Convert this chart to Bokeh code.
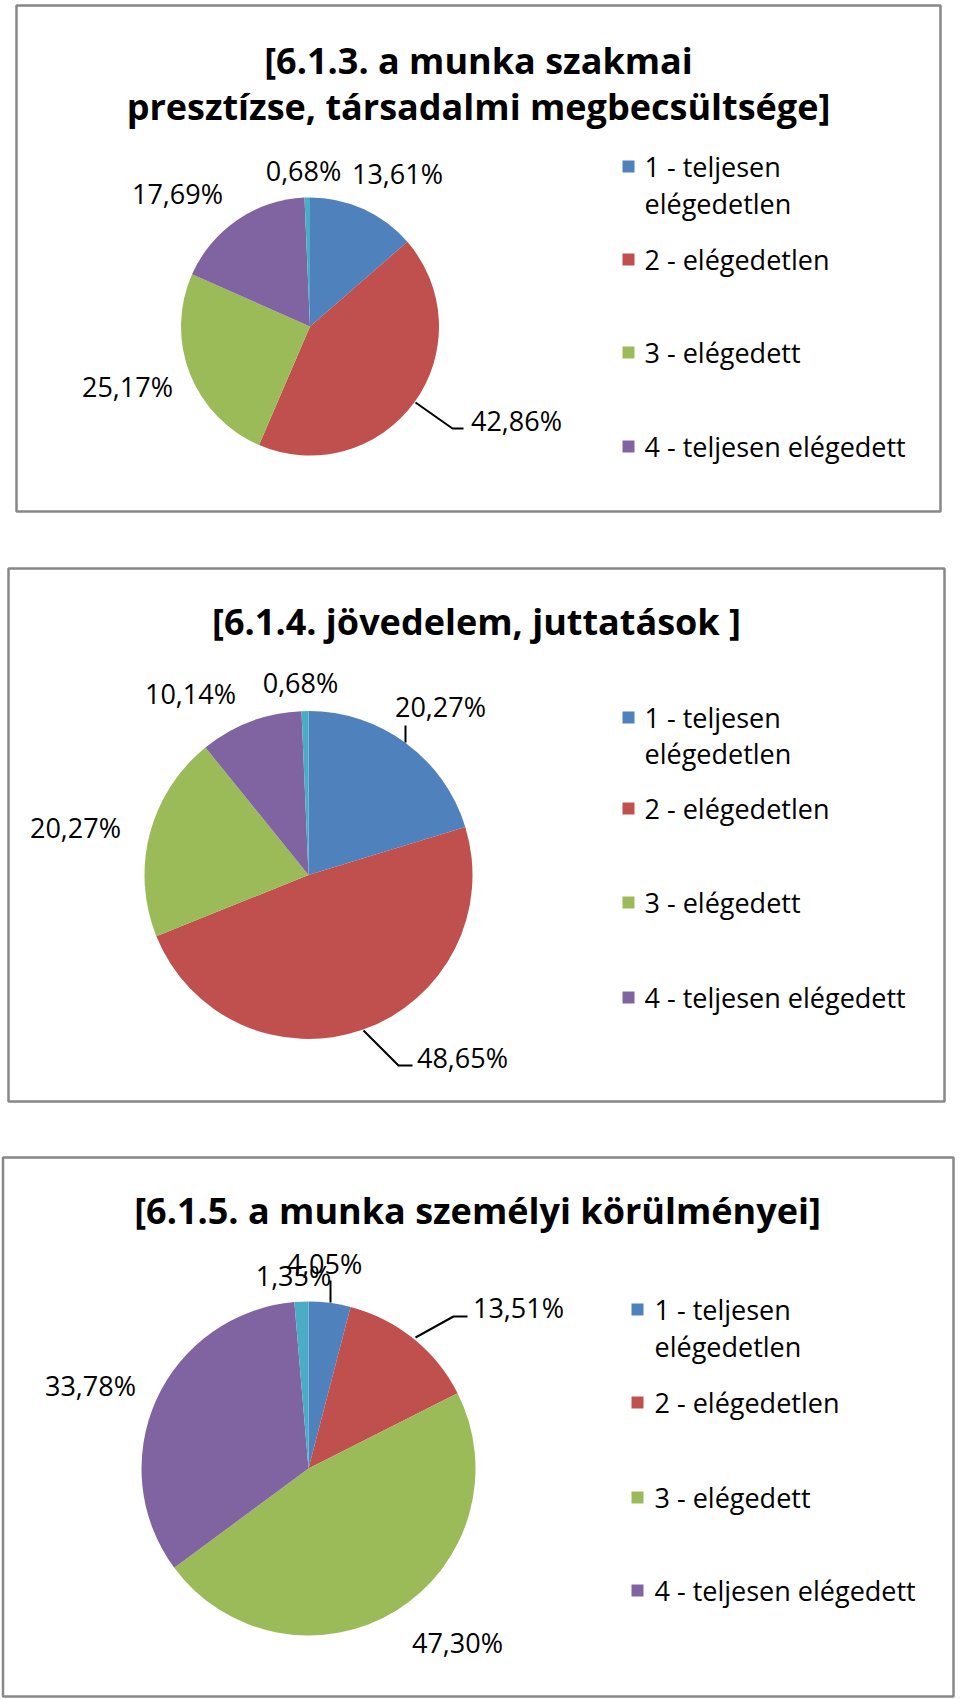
import numpy as np
from bokeh.plotting import figure
from bokeh.models import Range1d
from bokeh.core.properties import value
from bokeh.embed import file_html
from bokeh.resources import INLINE

# ---------------- data ----------------
legend_labels = ["1 - teljesen\nelégedetlen", "2 - elégedetlen", "3 - elégedett", "4 - teljesen elégedett"]
slice_names = ["1 - teljesen elégedetlen", "2 - elégedetlen", "3 - elégedett",
               "4 - teljesen elégedett", "nincs válasz"]
colors = ["#4F81BD", "#C0504D", "#9BBB59", "#8064A2", "#4BACC6"]

title_613 = "[6.1.3. a munka szakmai\npresztízse, társadalmi megbecsültsége]"
values_613 = [13.61, 42.86, 25.17, 17.69, 0.68]

title_614 = "[6.1.4. jövedelem, juttatások ]"
values_614 = [20.27, 48.65, 20.27, 10.14, 0.68]

title_615 = "[6.1.5. a munka személyi körülményei]"
values_615 = [4.05, 13.51, 47.30, 33.78, 1.35]

# ---------------- layout (page pixel coordinates) ----------------
PAGE_H = 1699
W, H = 960, 1699
FONT = "Open Sans"
LABEL_SIZE = "27px"
TITLE_SIZE = "36px"

charts = [
    dict(title=title_613, values=values_613, box=(16, 5, 940, 511),
         center=(309.5, 326), r=129, title_x=478, title_y=[60, 106],
         leg_sq_x=628, leg_tx=644, leg_y=[166, 259, 352, 446], leg_dy=37,
         label_pos=[(397, 173), (516, 420), (127, 386), (177, 193), (303, 170)],
         leaders=[[(415, 402), (452, 428), (463, 428)]]),
    dict(title=title_614, values=values_614, box=(8, 568, 944, 1101),
         center=(308, 874.5), r=164, title_x=476, title_y=[621],
         leg_sq_x=628, leg_tx=644, leg_y=[717, 808, 902, 997], leg_dy=36,
         label_pos=[(440, 706), (462, 1057), (75, 827), (190, 693), (300, 682)],
         leaders=[[(405, 725), (405, 742)], [(363, 1030), (398, 1065), (412, 1065)]]),
    dict(title=title_615, values=values_615, box=(2.5, 1157, 953, 1696),
         center=(308, 1468), r=167, title_x=477, title_y=[1210],
         leg_sq_x=637, leg_tx=654, leg_y=[1309, 1402, 1497, 1590], leg_dy=37,
         label_pos=[(324, 1263), (518, 1307), (457, 1642), (90, 1385), (293, 1275)],
         leaders=[[(330, 1280), (330, 1302)], [(415, 1337), (453, 1316), (467, 1316)]]),
]


def Y(py):
    return PAGE_H - py


p = figure(width=W, height=H, x_range=Range1d(0, W), y_range=Range1d(PAGE_H - H, PAGE_H),
           output_backend="svg", toolbar_location=None, x_axis_location=None, y_axis_location=None,
           min_border=0)
p.grid.visible = False
p.outline_line_color = None
p.background_fill_color = "white"
p.border_fill_color = "white"

for c in charts:
    l, t, r_, b = c["box"]
    p.quad(left=[l], right=[r_], top=[Y(t)], bottom=[Y(b)], fill_color=None,
           line_color="#888888", line_width=2.5)

    # title
    lines = c["title"].split("\n")
    p.text(x=[c["title_x"]] * len(lines), y=[Y(v) for v in c["title_y"]], text=lines,
           text_font=value(FONT), text_font_size=value(TITLE_SIZE), text_font_style="bold",
           text_align="center", text_baseline="middle", text_color="black")

    # pie
    vals = np.array(c["values"], dtype=float)
    frac = vals / vals.sum()
    cum = np.concatenate([[0.0], np.cumsum(frac)])
    start = np.pi / 2 - 2 * np.pi * cum[1:]
    end = np.pi / 2 - 2 * np.pi * cum[:-1]
    cx, cy = c["center"]
    p.wedge(x=cx, y=Y(cy), radius=c["r"], start_angle=start, end_angle=end,
            direction="anticlock", fill_color=colors, line_color=None)

    # leader lines
    for ld in c["leaders"]:
        p.line(x=[q[0] for q in ld], y=[Y(q[1]) for q in ld], line_color="black", line_width=2)

    # data labels
    labels = [f"{v:.2f}".replace(".", ",") + "%" for v in c["values"]]
    p.text(x=[q[0] for q in c["label_pos"]], y=[Y(q[1]) for q in c["label_pos"]], text=labels,
           text_font=value(FONT), text_font_size=value(LABEL_SIZE), text_align="center",
           text_baseline="middle", text_color="black")

    # legend
    p.rect(x=[c["leg_sq_x"]] * 4, y=[Y(v) for v in c["leg_y"]], width=12, height=12,
           fill_color=colors[:4], line_color=None)
    tx, ty = [], []
    for lab, yy in zip(legend_labels, c["leg_y"]):
        for k, part in enumerate(lab.split("\n")):
            tx.append(part)
            ty.append(Y(yy + k * c["leg_dy"]))
    p.text(x=[c["leg_tx"]] * len(tx), y=ty, text=tx, text_font=value(FONT),
           text_font_size=value(LABEL_SIZE), text_align="left", text_baseline="middle",
           text_color="black")

open("out.html", "w").write(file_html(p, INLINE))
